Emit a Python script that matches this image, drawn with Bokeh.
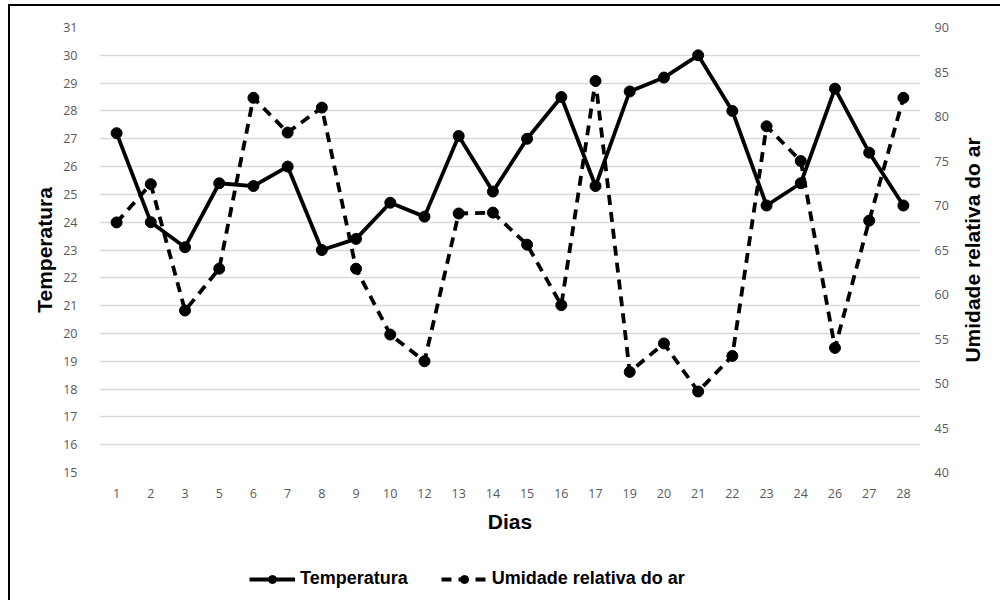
import math
from bokeh.plotting import figure
from bokeh.layouts import column, row
from bokeh.models import (Range1d, LinearAxis, FactorRange, Legend, LegendItem,
                          FixedTicker, Label)
from bokeh.embed import file_html
from bokeh.resources import INLINE

dias = ["1", "2", "3", "5", "6", "7", "8", "9", "10", "12", "13", "14",
        "15", "16", "17", "19", "20", "21", "22", "23", "24", "26", "27", "28"]
temperatura = [27.2, 24.0, 23.1, 25.4, 25.3, 26.0, 23.0, 23.4, 24.7, 24.2, 27.1, 25.1,
               27.0, 28.5, 25.3, 28.7, 29.2, 30.0, 28.0, 24.6, 25.4, 28.8, 26.5, 24.6]
umidade = [68.1, 72.4, 58.2, 62.9, 82.1, 78.2, 81.0, 62.9, 55.5, 52.5, 69.1, 69.2,
           65.6, 58.8, 84.0, 51.3, 54.5, 49.1, 53.1, 78.9, 75.0, 54.0, 68.3, 82.1]
temp_ticks = list(range(15, 32))
umid_ticks = list(range(40, 95, 5))
right_title = "Umidade relativa do ar"

W = 998
PW = 958
p = figure(width=PW, height=540, x_range=FactorRange(*dias), y_range=Range1d(15, 31),
           output_backend="svg", toolbar_location=None,
           min_border_left=99, min_border_top=27, min_border_right=38, min_border_bottom=68)
p.extra_y_ranges = {"umid": Range1d(40, 90)}
p.outline_line_color = None
p.xgrid.grid_line_color = None
p.ygrid.grid_line_color = "#d9d9d9"
p.ygrid.grid_line_width = 1.5

tick_font = "Open Sans"
label_font = "Liberation Sans"

p.yaxis.ticker = FixedTicker(ticks=temp_ticks)
p.yaxis.axis_label = "Temperatura"
p.xaxis.axis_label = "Dias"

rax = LinearAxis(y_range_name="umid", ticker=FixedTicker(ticks=umid_ticks))
p.add_layout(rax, "right")

for ax in [p.xaxis[0], p.yaxis[0], rax]:
    ax.axis_line_color = None
    ax.major_tick_line_color = None
    ax.minor_tick_line_color = None
    ax.major_tick_out = 0
    ax.major_tick_in = 0
    ax.minor_tick_out = 0
    ax.major_label_text_font = tick_font
    ax.major_label_text_font_size = "12.5px"
    ax.major_label_text_color = "#595959"
    ax.axis_label_text_font = label_font
    ax.axis_label_text_font_style = "bold"
    ax.axis_label_text_font_size = "21px"
    ax.axis_label_text_color = "black"

p.xaxis.major_label_standoff = 16
p.xaxis.axis_label_standoff = 9
p.yaxis.major_label_standoff = 22
p.yaxis.axis_label_standoff = 4
rax.major_label_standoff = 14

line_kw = dict(line_width=3.8, line_color="black")
dash = "10 7"
p.line(dias, temperatura, **line_kw)
p.scatter(dias, temperatura, size=11, color="black")
p.line(dias, umidade, line_dash=dash, y_range_name="umid", **line_kw)
p.scatter(dias, umidade, size=11, color="black", y_range_name="umid")

# narrow strip on the right holding the secondary axis title (reads bottom to top)
p3 = figure(width=W - PW, height=540, x_range=Range1d(0, W - PW), y_range=Range1d(15, 31),
            output_backend="svg", toolbar_location=None,
            min_border_left=0, min_border_right=0, min_border_top=27, min_border_bottom=68,
            x_axis_location=None, y_axis_location=None)
p3.outline_line_color = None
p3.grid.grid_line_color = None
p3.add_layout(Label(x=14, y=23, text=right_title, angle=math.pi / 2,
                    text_align="center", text_baseline="middle",
                    text_font=label_font, text_font_style="bold",
                    text_font_size="21px", text_color="black"))

# legend strip below the chart (series drawn out of view, only legend shows)
p2 = figure(width=W, height=58, x_range=FactorRange(*dias), y_range=Range1d(200, 201),
            output_backend="svg", toolbar_location=None, min_border=0,
            x_axis_location=None, y_axis_location=None)
p2.outline_line_color = None
p2.grid.grid_line_color = None
l1 = p2.line(dias, temperatura, **line_kw)
s1 = p2.scatter(dias, temperatura, size=11, color="black")
l2 = p2.line(dias, umidade, line_dash=dash, **line_kw)
s2 = p2.scatter(dias, umidade, size=11, color="black")

legend = Legend(items=[LegendItem(label="Temperatura", renderers=[l1, s1]),
                       LegendItem(label="Umidade relativa do ar", renderers=[l2, s2])],
                orientation="horizontal", location=(249, 9))
legend.margin = 0
legend.padding = 5
legend.label_text_font = label_font
legend.label_text_font_style = "bold"
legend.label_text_font_size = "18px"
legend.label_text_color = "black"
legend.label_standoff = 5
legend.border_line_color = None
legend.background_fill_alpha = 0
legend.glyph_width = 46
legend.spacing = 33
p2.add_layout(legend, "center")

layout = column(row(p, p3, spacing=0), p2, spacing=0)
html = file_html(layout, INLINE)
frame_div = ('<div style="position:fixed; left:8px; top:4px; width:1200px; height:800px; '
             'border-left:2px solid black; border-top:2px solid black; z-index:10; '
             'pointer-events:none; box-sizing:border-box;"></div>')
html = html.replace("</body>", frame_div + "</body>", 1)
open("out.html", "w").write(html)
